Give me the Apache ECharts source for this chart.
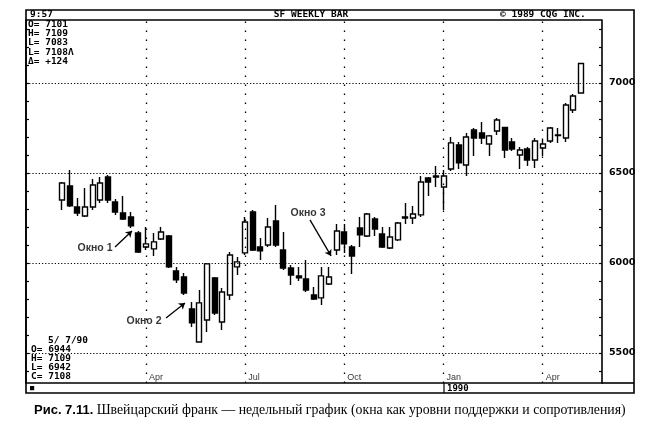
<!DOCTYPE html>
<html><head><meta charset="utf-8">
<script src="https://cdn.jsdelivr.net/npm/echarts@6/dist/echarts.min.js"></script>
<style>html,body{margin:0;padding:0;background:#fff}#c{width:654px;height:432px}</style>
</head><body><div id="c"></div>
<script>
const weeks = ['1989-01-16','1989-01-23','1989-01-30','1989-02-06','1989-02-13','1989-02-20','1989-02-27',
'1989-03-06','1989-03-13','1989-03-20','1989-03-27','1989-04-03','1989-04-10','1989-04-17','1989-04-24',
'1989-05-01','1989-05-08','1989-05-15','1989-05-22','1989-05-29','1989-06-05','1989-06-12','1989-06-19','1989-06-26',
'1989-07-03','1989-07-10','1989-07-17','1989-07-24','1989-07-31','1989-08-07','1989-08-14','1989-08-21','1989-08-28',
'1989-09-04','1989-09-11','1989-09-18','1989-09-25','1989-10-02','1989-10-09','1989-10-16','1989-10-23','1989-10-30',
'1989-11-06','1989-11-13','1989-11-20','1989-11-27','1989-12-04','1989-12-11','1989-12-18','1989-12-25',
'1990-01-01','1990-01-08','1990-01-15','1990-01-22','1990-01-29','1990-02-05','1990-02-12','1990-02-19','1990-02-26',
'1990-03-05','1990-03-12','1990-03-19','1990-03-26','1990-04-02','1990-04-09','1990-04-16','1990-04-23','1990-04-30','1990-05-07'];
const open  = [6350,6428,6311,6261,6311,6350,6478,6339,6278,6256,6167,6089,6078,6133,6150,5956,5922,5744,5561,5683,
5917,5672,5822,5978,6056,6283,6089,6100,6233,6072,5972,5928,5911,5822,5806,5883,6072,6172,6089,6194,
6150,6244,6161,6083,6128,6256,6250,6267,6472,6483,6422,6522,6656,6544,6739,6722,6661,6733,6753,6672,
6600,6633,6572,6639,6678,6708,6694,6850,6944];
const high  = [6450,6517,6361,6417,6467,6478,6489,6356,6372,6283,6178,6200,6167,6200,6156,5978,5944,5783,5850,6000,
5922,5861,6061,6033,6256,6294,6139,6250,6322,6172,5989,5978,6017,5867,5978,5978,6217,6217,6100,6256,
6278,6256,6200,6200,6228,6333,6317,6483,6478,6539,6517,6700,6672,6722,6750,6783,6711,6806,6756,6694,
6644,6644,6694,6683,6756,6750,6889,6939,7109];
const low   = [6294,6311,6261,6255,6294,6333,6333,6267,6239,6194,6056,6072,6039,6128,5972,5889,5822,5644,5556,5617,
5711,5628,5794,5933,6044,6067,6017,6089,6089,5961,5878,5900,5839,5794,5767,5878,6044,6056,5939,6089,
6144,6150,6083,6078,6122,6217,6217,6256,6372,6422,6294,6511,6522,6483,6594,6661,6594,6711,6583,6622,
6522,6539,6528,6594,6667,6667,6672,6833,6942];
const close = [6444,6317,6278,6311,6433,6444,6350,6283,6244,6206,6061,6106,6117,6172,5978,5906,5833,5667,5778,5995,
5722,5839,6044,6006,6228,6072,6067,6200,6100,5972,5933,5917,5850,5800,5928,5922,6178,6106,6039,6156,
6272,6189,6089,6144,6222,6250,6272,6450,6450,6478,6483,6667,6556,6700,6694,6694,6706,6794,6628,6633,
6628,6572,6678,6661,6750,6711,6878,6928,7108];

const priceLabels = [5500, 6000, 6500, 7000];
const priceTicks = [5400,5500,5600,5700,5800,5900,6000,6100,6200,6300,6400,6500,6600,6700,6800,6900,7000,7100,7200,7300];
const quarterStarts = ['1989-04-03','1989-07-03','1989-10-02','1990-01-01','1990-04-02'];
const quarterNames = ['Apr','Jul','Oct','Jan','Apr'];
const headerLines = ['O= 7101','H= 7109','L= 7083','L= 7108Λ','Δ= +124'];
const footerLines = ['5/ 7/90','O= 6944','H= 7109','L= 6942','C= 7108'];
// window annotations: [week position, price]
const windowNames = ['Окно 1','Окно 2','Окно 3'];
const windowLabelAt = [[4.33, 6083],[10.75, 5678],[32.24, 6275]];
const windowArrowFrom = [[6.95, 6089],[13.63, 5694],[32.5, 6239]];
const windowArrowTo = [[9.17, 6178],[16.12, 5778],[35.26, 6039]];

const DAY = 86400000;
const ts = s => { const p = s.split('-').map(Number); return new Date(p[0], p[1]-1, p[2]).getTime(); };
const t0 = ts(weeks[0]);
const weekPos = w => t0 + w * 7 * DAY;
const yMin = 5333, yMax = 7350;

const candles = weeks.map((w, i) => [ts(w), open[i], close[i], low[i], high[i]]);

const chart = echarts.init(document.getElementById('c'), null, {renderer: 'canvas'});
const mono = "'DejaVu Sans Mono', monospace";
const txt = (x, y, text, font, extra) => Object.assign({type: 'text', silent: true, style: Object.assign({x, y, text, font, fill: '#000', textVerticalAlign: 'middle'}, extra || {})});

const graphics = [
  {type: 'rect', shape: {x: 26, y: 10, width: 608, height: 383}, style: {fill: 'none', stroke: '#000', lineWidth: 1.6}, silent: true},
  {type: 'line', shape: {x1: 26, y1: 20, x2: 602, y2: 20}, style: {stroke: '#000', lineWidth: 1.6}, silent: true},
  {type: 'line', shape: {x1: 602, y1: 383, x2: 634, y2: 383}, style: {stroke: '#000', lineWidth: 1.6}, silent: true},
  {type: 'line', shape: {x1: 444, y1: 383, x2: 444, y2: 393}, style: {stroke: '#000', lineWidth: 1.2}, silent: true},
  txt(30, 15, '9:57', 'bold 9.5px ' + mono),
  txt(311, 15, 'SF WEEKLY BAR', 'bold 9.5px ' + mono, {textAlign: 'center'}),
  txt(500, 15, '© 1989 CQG INC.', 'bold 9.5px ' + mono),
  txt(30, 388.5, '■', '7px ' + mono),
  txt(447, 388.5, '1990', 'bold 9px ' + mono),
  {type: 'text', silent: true, style: {x: 34, y: 410, textVerticalAlign: 'middle', fill: '#000',
    text: '{a|Рис. 7.11.} {b|Швейцарский франк — недельный график (окна как уровни поддержки и сопротивления)}',
    rich: {a: {font: "bold 13px 'Liberation Sans'", fill: '#000'}, b: {font: "13.8px 'Liberation Serif'", fill: '#000'}}}}
];
headerLines.forEach((s, i) => graphics.push(txt(28, 24.5 + i * 9.2, s, 'bold 9.5px ' + mono)));
footerLines.forEach((s, i) => graphics.push(txt(i === 0 ? 48 : 31, 341 + i * 9, s, 'bold 9.5px ' + mono)));

const hLines = priceLabels.map(v => ({yAxis: v}));
const vLines = quarterStarts.map(d => ({xAxis: ts(d)}));

chart.setOption({
  animation: false,
  backgroundColor: '#fff',
  grid: {left: 26, right: 52, top: 20, bottom: 49},
  xAxis: {
    type: 'time', min: weekPos(-4.718), max: weekPos(70.77),
    axisLine: {show: true, onZero: false, lineStyle: {color: '#000', width: 1.6}},
    axisTick: {show: false}, axisLabel: {show: false}, splitLine: {show: false}
  },
  yAxis: [
    {type: 'value', position: 'right', min: yMin, max: yMax,
     axisLine: {show: true, lineStyle: {color: '#000', width: 1.6}},
     axisTick: {show: true, inside: true, length: 3, customValues: priceTicks, lineStyle: {color: '#000', width: 1.2}},
     axisLabel: {show: true, customValues: priceLabels, formatter: v => String(v), margin: 7, color: '#000',
                 fontFamily: 'DejaVu Sans', fontSize: 9.5, fontWeight: 'bold'},
     splitLine: {show: false}},
    {type: 'value', position: 'left', min: yMin, max: yMax,
     axisLine: {show: true, lineStyle: {color: '#000', width: 1.6}},
     axisTick: {show: true, inside: true, length: 3, customValues: priceTicks, lineStyle: {color: '#000', width: 1.2}},
     axisLabel: {show: false}, splitLine: {show: false}}
  ],
  series: [
    {
      type: 'scatter', name: 'months', z: 1, symbolSize: 0, silent: true,
      data: quarterStarts.map((d, i) => ({value: [ts(d), yMin], name: quarterNames[i]})),
      label: {show: true, formatter: p => p.name, position: 'top', align: 'left', offset: [3, 1], distance: 2,
              color: '#000', fontFamily: 'Liberation Sans', fontSize: 9},
      markLine: {
        silent: true, symbol: 'none', animation: false, label: {show: false},
        data: [
          ...hLines.map(o => Object.assign(o, {lineStyle: {type: [1.2, 2], color: '#000', width: 1.1}})),
          ...vLines.map(o => Object.assign(o, {lineStyle: {type: [1.5, 7.5], color: '#000', width: 1.3}}))
        ]
      }
    },
    {
      type: 'candlestick', name: 'SF', z: 3,
      dimensions: ['date', 'open', 'close', 'lowest', 'highest'],
      encode: {x: 'date', y: ['open', 'close', 'lowest', 'highest']},
      data: candles, barWidth: 5.5,
      itemStyle: {color: '#fff', color0: '#000', borderColor: '#000', borderColor0: '#000', borderWidth: 1.4}
    },
    {
      type: 'lines', coordinateSystem: 'cartesian2d', z: 4, silent: true,
      symbol: ['none', 'arrow'], symbolSize: 6,
      lineStyle: {color: '#000', width: 1.3, opacity: 1},
      data: windowArrowFrom.map((f, i) => ({coords: [[weekPos(f[0]), f[1]], [weekPos(windowArrowTo[i][0]), windowArrowTo[i][1]]]}))
    },
    {
      type: 'scatter', name: 'windows', z: 5, symbolSize: 0, silent: true,
      data: windowLabelAt.map((p, i) => ({value: [weekPos(p[0]), p[1]], name: windowNames[i]})),
      label: {show: true, formatter: p => p.name, position: 'inside', color: '#000', fontFamily: 'Liberation Sans',
              fontSize: 10.5, fontWeight: 'bold'}
    }
  ],
  graphic: graphics
});
</script></body></html>
